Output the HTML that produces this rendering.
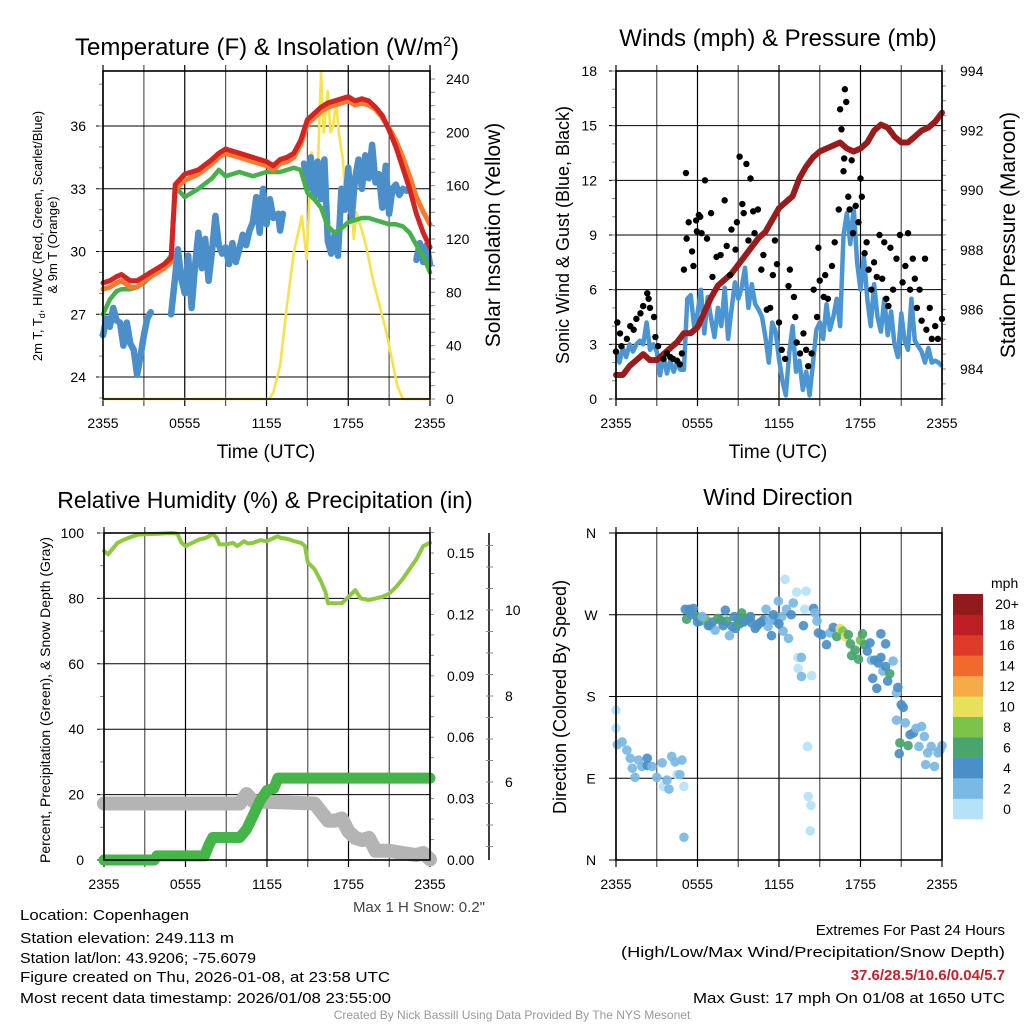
<!DOCTYPE html>
<html><head><meta charset="utf-8"><style>
html,body{margin:0;padding:0;background:#fff;}
svg{display:block;font-family:"Liberation Sans",sans-serif;}
</style></head><body>
<svg id="chart" width="1024" height="1024" viewBox="0 0 1024 1024" xmlns="http://www.w3.org/2000/svg">
<rect width="1024" height="1024" fill="#fff"/>
<text x="267" y="55" font-size="24" text-anchor="middle">Temperature (F) &amp; Insolation (W/m<tspan dy="-9" font-size="14">2</tspan><tspan dy="9">)</tspan></text>
<text x="778" y="46" font-size="24" text-anchor="middle">Winds (mph) &amp; Pressure (mb)</text>
<text x="265" y="508" font-size="23" text-anchor="middle">Relative Humidity (%) &amp; Precipitation (in)</text>
<text x="778" y="505" font-size="23" text-anchor="middle">Wind Direction</text>

<text transform="translate(42,236) rotate(-90)" font-size="13" text-anchor="middle">2m T, T<tspan font-size="9" dy="3">d</tspan><tspan dy="-3">, HI/WC (Red, Green, Scarlet/Blue)</tspan></text>
<text transform="translate(57,245) rotate(-90)" font-size="13" text-anchor="middle">&amp; 9m T (Orange)</text>
<text transform="translate(500,235) rotate(-90)" font-size="21" text-anchor="middle">Solar Insolation (Yellow)</text>
<text transform="translate(569,235) rotate(-90)" font-size="18" text-anchor="middle">Sonic Wind &amp; Gust (Blue, Black)</text>
<text transform="translate(1015,235) rotate(-90)" font-size="21" text-anchor="middle">Station Pressure (Maroon)</text>
<text transform="translate(50,700) rotate(-90)" font-size="14" text-anchor="middle">Percent, Precipitation (Green), &amp; Snow Depth (Gray)</text>
<text transform="translate(566,697) rotate(-90)" font-size="18" text-anchor="middle">Direction (Colored By Speed)</text>
<text x="266" y="458" font-size="19" text-anchor="middle">Time (UTC)</text>
<text x="778" y="458" font-size="19" text-anchor="middle">Time (UTC)</text>
<text x="485" y="912" font-size="15" text-anchor="end" fill="#444">Max 1 H Snow: 0.2"</text>

<g font-size="15">
<text x="20" y="920" textLength="169" lengthAdjust="spacingAndGlyphs">Location: Copenhagen</text>
<text x="20" y="943" textLength="214" lengthAdjust="spacingAndGlyphs">Station elevation: 249.113 m</text>
<text x="20" y="963" textLength="236" lengthAdjust="spacingAndGlyphs">Station lat/lon: 43.9206; -75.6079</text>
<text x="20" y="982" textLength="370" lengthAdjust="spacingAndGlyphs">Figure created on Thu, 2026-01-08, at 23:58 UTC</text>
<text x="20" y="1003" textLength="371" lengthAdjust="spacingAndGlyphs">Most recent data timestamp: 2026/01/08 23:55:00</text>
</g>
<g font-size="15" text-anchor="end">
<text x="1005" y="935">Extremes For Past 24 Hours</text>
<text x="1005" y="957" textLength="384" lengthAdjust="spacingAndGlyphs">(High/Low/Max Wind/Precipitation/Snow Depth)</text>
<text x="1005" y="980" fill="#c8202a" font-weight="bold">37.6/28.5/10.6/0.04/5.7</text>
<text x="1005" y="1003" textLength="312" lengthAdjust="spacingAndGlyphs">Max Gust: 17 mph On 01/08 at 1650 UTC</text>
</g>
<text x="512" y="1019" font-size="12" fill="#999" text-anchor="middle">Created By Nick Bassill Using Data Provided By The NYS Mesonet</text>
</svg>
<script>
// ---------- DATA ----------
const timeTicks = ["2355","0555","1155","1755","2355"];
// Temperature panel
const tempTime = [0,0.5,1,1.35,2,2.5,3,3.5,4,4.5,5,5.15,5.3,6,7,8,8.5,9,9.5,10,10.5,11,11.5,12,12.5,13,13.5,14,14.5,15,15.5,16,16.5,17,17.5,18,18.5,19,19.5,20,20.5,21,21.5,22,22.5,23,23.5,24];
const tempRed  = [28.5,28.6,28.8,28.9,28.6,28.6,28.8,29.0,29.2,29.4,29.7,31.5,33.2,33.7,33.9,34.4,34.7,34.9,34.8,34.7,34.6,34.5,34.4,34.3,34.1,34.4,34.5,34.7,35.3,36.3,36.6,36.9,37.1,37.2,37.3,37.4,37.2,37.3,37.2,36.9,36.5,35.8,35.0,34.0,33.0,31.8,30.9,30.2];
const tempOrange=[28.2,28.3,28.5,28.6,28.3,28.3,28.6,28.8,29.0,29.2,29.5,31.3,33.0,33.4,33.7,34.2,34.5,34.7,34.6,34.5,34.4,34.3,34.2,34.1,33.9,34.2,34.3,34.5,35.1,36.1,36.4,36.7,36.9,37.0,37.1,37.2,37.0,37.1,37.0,36.8,36.4,35.9,35.3,34.5,33.6,32.6,31.9,31.3];
const tempGreen= [27.0,27.7,28.1,28.2,28.2,28.3,28.5,28.8,29.1,29.4,29.8,31.5,33.1,32.6,33.0,33.5,33.9,33.6,33.7,33.8,33.7,33.6,33.7,33.8,33.8,33.8,33.9,34.0,33.9,32.8,32.5,32.1,31.2,30.9,31.1,31.4,31.5,31.6,31.6,31.5,31.4,31.3,31.3,31.2,30.9,30.3,29.8,29.0];
const wcTime = [0,0.25,0.5,0.75,1,1.25,1.5,1.75,2,2.25,2.5,2.75,3,3.25,3.5,3.6,5.0,5.25,5.5,5.75,6,6.25,6.5,6.75,7,7.25,7.5,7.75,8,8.25,8.5,8.75,9,9.25,9.5,9.75,10,10.25,10.5,10.75,11,11.25,11.5,11.75,12,12.25,12.5,12.6,12.85,13.0,13.2,14.5,14.75,15,15.25,15.5,15.75,16,16.25,16.5,16.75,17,17.25,17.5,17.75,18,18.25,18.5,18.75,19,19.25,19.5,19.75,20,20.25,20.5,20.75,21,21.25,21.5,21.75,22,22.3,22.9,23,23.25,23.5,23.75,24];
const wcBlue = [26.0,26.8,26.4,27.3,26.7,26.6,25.5,26.6,25.6,25.3,24.1,25.0,26.0,26.8,27.1,null,27.0,28.5,30.1,28.7,28.0,29.8,27.3,29.3,30.9,29.2,30.6,28.6,30.0,31.7,30.3,29.9,30.2,29.4,30.4,29.5,30.1,30.8,30.3,31.0,31.4,32.6,30.9,33.0,31.3,32.5,31.6,null,31.8,31.0,31.8,null,34.2,33.0,34.5,32.6,34.3,32.5,34.4,30.5,29.9,30.8,29.8,33.0,32.0,34.0,31.6,33.5,34.4,33.0,34.6,33.5,35.1,33.3,33.7,32.1,34.1,31.8,33.0,33.2,32.7,33.0,32.9,null,29.6,30.4,29.5,30.3,29.4];
const solarTime = [0,12.2,12.5,13.0,13.5,14.0,14.6,14.95,15.3,15.7,16.0,16.2,16.5,16.7,16.9,17.1,17.3,17.6,17.8,18.0,18.2,18.4,18.6,18.9,19.3,19.8,20.3,20.8,21.2,21.6,22.0,24];
const solarVal  = [0,0,5,25,70,110,137,105,185,150,245,200,231,200,205,225,200,180,150,140,160,120,140,130,115,90,70,50,30,10,0,0];
// Wind panel
const pressTime = [0,0.5,1,1.5,2,2.5,3,3.5,4,4.5,5,5.5,6,6.5,7,7.5,8,8.5,9,9.5,10,10.5,11,11.5,12,12.5,13,13.5,14,14.5,15,15.5,16,16.5,17,17.5,18,18.5,19,19.5,20,20.5,21,21.5,22,22.5,23,23.5,24];
const pressVal  = [983.8,983.8,984.1,984.3,984.5,984.3,984.3,984.5,984.7,984.9,985.2,985.2,985.4,985.9,986.4,986.8,987.0,987.2,987.5,987.8,988.1,988.4,988.6,989.0,989.4,989.6,989.8,990.4,990.8,991.1,991.3,991.4,991.5,991.6,991.4,991.3,991.4,991.6,992.0,992.2,992.1,991.8,991.6,991.6,991.8,992.0,992.1,992.3,992.6];
const windTime = [0,0.25,0.5,0.75,1,1.25,1.5,1.75,2,2.25,2.5,2.75,3,3.25,3.5,3.75,4,4.25,4.5,4.75,5,5.25,5.5,5.75,6,6.25,6.5,6.75,7,7.25,7.5,7.75,8,8.25,8.5,8.75,9,9.25,9.5,9.75,10,10.25,10.5,10.75,11,11.25,11.5,11.75,12,12.25,12.5,12.75,13,13.25,13.5,13.75,14,14.25,14.5,14.75,15,15.25,15.5,15.75,16,16.25,16.5,16.75,17,17.25,17.5,17.75,18,18.25,18.5,18.75,19,19.25,19.5,19.75,20,20.25,20.5,20.75,21,21.25,21.5,21.75,22,22.25,22.5,22.75,23,23.25,23.5,23.75,24];
const windVal = [2.7,2.0,2.8,2.3,3.0,2.6,3.0,3.2,3.0,4.2,2.7,3.0,2.6,1.3,2.4,1.4,2.1,1.5,2.0,1.6,1.6,5.5,5.7,4.0,4.7,6.0,3.6,5.6,4.4,3.4,5.0,4.0,6.1,3.3,4.9,6.4,5.5,6.1,7.2,5.0,6.3,5.2,4.9,4.5,3.4,2.0,4.2,3.7,2.2,1.0,0.2,2.5,4.0,1.5,2.1,0.5,1.5,0.2,2.0,3.8,4.2,3.3,5.2,3.8,4.5,5.5,4.0,9.0,10.2,8.5,10.5,7.5,6.0,7.8,5.5,4.0,6.3,4.5,3.7,5.5,3.5,4.8,3.0,2.3,4.7,3.2,2.7,5.5,3.2,2.9,2.6,2.0,2.8,2.0,2.1,2.0,1.8];
const gustTime = [0,0.1,0.3,0.4,0.8,1.05,1.3,1.5,1.8,2.0,2.3,2.4,2.5,2.8,2.9,3.1,3.5,3.75,4.0,4.2,4.5,4.7,4.85,5.0,5.15,5.2,5.35,5.6,5.7,5.9,5.95,6.1,6.2,6.3,6.55,6.7,7.0,7.1,7.4,7.7,8.0,8.15,8.4,8.5,8.8,8.9,9.1,9.3,9.4,9.6,9.75,9.9,10.1,10.2,10.45,10.7,10.85,11.1,11.35,11.55,11.7,11.85,12.0,12.2,12.45,12.7,12.8,13.1,13.2,13.3,13.55,13.8,14.0,14.15,14.4,14.55,14.8,14.9,15.0,15.3,15.4,15.6,15.9,16.1,16.4,16.5,16.6,16.75,16.8,16.85,16.95,17.1,17.2,17.35,17.45,17.65,17.85,18.0,18.1,18.3,18.45,18.6,18.8,19.0,19.2,19.4,19.6,19.75,19.9,20.05,20.2,20.4,20.65,20.9,21.1,21.3,21.5,21.65,21.85,22.0,22.15,22.35,22.5,22.75,22.85,23.1,23.25,23.5,23.7,24.0];
const gustVal  = [2.6,4.2,3.6,2.9,3.3,4.0,3.8,4.4,4.7,5.1,5.8,5.5,5.0,4.5,3.4,2.9,2.2,2.5,2.3,2.2,2.1,1.9,2.5,7.1,12.4,8.8,9.7,8.1,7.3,9.8,9.2,10.1,10.0,9.1,12.0,8.8,10.2,6.7,7.8,7.9,10.9,8.4,6.8,9.3,8.2,9.7,13.3,10.7,10.2,12.9,8.7,12.1,10.3,9.1,10.4,7.1,7.9,4.9,5.0,6.8,8.7,7.4,4.2,2.7,2.2,6.2,7.1,5.6,4.5,3.1,2.5,3.6,2.7,1.8,2.5,6.0,4.5,8.3,6.5,5.6,6.8,5.5,7.3,8.6,10.4,15.9,14.8,12.5,13.2,17.0,16.3,11.1,10.4,13.1,9.1,10.6,9.7,12.1,11.1,8.0,8.6,7.1,6.0,7.5,6.7,9.0,6.6,8.6,5.5,5.1,8.3,6.0,7.7,9.0,6.4,7.3,9.1,6.0,7.7,6.6,5.0,6.0,4.3,7.7,3.8,5.0,3.3,4.0,3.3,4.4];
// Humidity panel
const rhTime = [0,0.3,0.7,1,1.5,2,2.5,3,4,5,5.4,5.7,6,6.5,7,7.5,8,8.3,8.5,9,9.5,9.8,10,10.3,10.6,11,11.5,12,12.5,12.8,13,13.5,14,14.5,14.8,15,15.5,16,16.3,16.5,17,17.5,18,18.5,18.9,19.5,20,20.5,21,21.5,22,22.5,23,23.5,24];
const rhVal  = [94.5,93.5,95.5,97,98,98.8,99.5,99.6,99.8,100,99.8,97,96,97,98,98.5,99.7,98.5,96.5,96.5,97,96,96.5,97.5,96.8,97,97.8,97.5,98.5,99,98.5,98.2,97.5,97,96,91,89,85,82,78.5,78.5,78.5,80.5,82.5,80,79.5,80,80.5,81.5,83.5,86,89,92,96,97];
const precipTime = [0,3.7,3.9,7.4,7.7,8.0,10.0,10.5,11.0,11.5,12.0,12.5,12.8,13.2,24];
const precipVal  = [0,0,0.002,0.002,0.007,0.011,0.011,0.015,0.022,0.029,0.034,0.035,0.040,0.040,0.040];
const snowTime = [0,10,10.5,11,15.5,16,16.5,17,17.5,18,18.5,19,19.5,20,21,22,23,23.5,24];
const snowVal  = [5.5,5.5,5.72,5.55,5.5,5.3,5.1,5.1,5.15,4.85,4.7,4.65,4.7,4.4,4.4,4.35,4.3,4.35,4.2];
// Wind direction panel
const dirTime = [0,0,0.1,0.45,0.8,1.05,1.2,1.4,1.65,1.9,2.3,2.3,2.65,3.0,3.4,3.5,3.75,3.9,4.1,4.35,4.5,4.7,4.85,5.0,5.0,5.1,5.2,5.4,5.7,5.95,6.2,6.45,6.65,6.95,7.3,7.7,8.05,8.15,8.35,8.55,8.8,9.0,9.25,9.5,9.75,10.0,10.25,10.6,10.85,11.05,11.2,11.45,11.7,11.95,12.2,12.3,12.45,12.55,12.7,12.9,13.05,13.3,13.4,13.4,13.65,13.65,13.9,14.0,13.8,14.4,14.55,14.65,14.8,14.9,15.15,15.5,15.75,16.0,16.25,16.5,16.7,16.9,17.1,17.25,17.35,17.6,17.85,18.0,18.15,18.3,18.5,18.7,18.8,19.05,19.3,19.5,19.5,19.65,19.85,19.85,20.0,20.15,20.4,19.2,18.9,20.65,20.75,21.0,21.15,20.65,20.9,20.85,21.3,21.5,21.65,21.9,22.1,22.3,22.5,22.7,22.8,22.95,23.2,23.45,23.7,24,23.85,14.15,14.35,14.3,14.1,5.55,6.0,6.35,6.8,7.1,7.5,7.9,8.7,9.1,9.4,9.9,10.4,10.7,11.3,11.6,12.0];
const dirDeg  = [165,145,127,130,121,112,101,91,110,103,112,104,103,91,107,81,88,78,114,108,94,94,110,81,25,276,265,276,277,268,263,265,264,258,253,264,275,263,247,257,255,264,272,264,266,261,255,261,264,276,257,247,264,285,268,252,309,276,244,270,283,295,223,211,223,202,276,296,258,203,277,272,263,250,248,237,250,256,246,255,252,246,248,238,225,231,221,242,249,237,230,239,220,220,217,249,223,208,238,213,197,205,219,189,200,184,190,171,168,154,129,117,151,126,138,140,145,125,147,136,105,118,125,103,118,126,121,70,60,32,125,270,262,268,258,262,266,258,268,260,262,268,258,262,264,270,260];
const dirSpd  = [1,1.5,3,2,2.5,2.5,2.5,2.5,2.5,2.5,4,4,2.5,2.5,2.5,1.5,3,2,2.5,2.5,1.5,2.5,2.5,1.5,2.5,4,6,5,4,6,4,7,8,4,3,4,4,7,2.5,4,4,6,7,6,6,5,4,4,4,3,3,4,4,3,2,2.5,1,3,2.5,4,2.5,1,1,1.5,2.5,2.5,1,1.5,4,1,4,2.5,3,4,4,4,3,4,6,10,8,10,6,7,6,6,7,8,7,6,5,4,3,4,4,4,4,2.5,4,4,4,6,2.5,4,4,2.5,4,4,4,2.5,6,4,2.5,6,4,4,2.5,2.5,2.5,2.5,2.5,2.5,2.5,2.5,2.5,2.5,2.5,1,1,1,1,4,4,3,4,4,6,4,4,6,4,4,4,4,3,4,4];
const dirLabels = ["N","E","S","W","N"];
const speedLabels = ["0","2","4","6","8","10","12","14","16","18","20+"];
const speedColors = ["#b5e2f8","#7ab9e4","#4a8fc7","#47a56d","#7dc24b","#e6e05a","#f7aa48","#f06a2d","#dd3a29","#bd1d25","#901a1c"];

// ---------- HELPERS ----------
const NS = "http://www.w3.org/2000/svg";
const svg = document.getElementById("chart");
function mk(tag, attrs, parent) {
  const e = document.createElementNS(NS, tag);
  for (const k in attrs) e.setAttribute(k, attrs[k]);
  (parent || svg).appendChild(e);
  return e;
}
function linScale(d0, d1, r0, r1) { return v => r0 + (v - d0) / (d1 - d0) * (r1 - r0); }
function pathD(xs, ys, sx, sy) {
  let d = "", pen = false;
  for (let i = 0; i < xs.length; i++) {
    if (ys[i] === null) { pen = false; continue; }
    d += (pen ? "L" : "M") + sx(xs[i]).toFixed(1) + "," + sy(ys[i]).toFixed(1);
    pen = true;
  }
  return d;
}
function stepD(xs, ys, sx, sy) {
  let d = "";
  for (let i = 0; i < xs.length; i++) {
    d += (i ? "L" : "M") + sx(xs[i]).toFixed(1) + "," + sy(ys[i]).toFixed(1);
  }
  return d;
}
function grid(p, hVals, sy, name) {
  const g = mk("g", {});
  
  
  for (let h = 0; h <= 24; h += 3) {
    const x = p.sx(h);
    const l = mk("line", {x1: x, x2: x, y1: p.y0 - 6, y2: p.y1 + 7, stroke: (h % 6 === 0) ? "#000" : "#555", "stroke-width": 1.2}, g);
    
    
  }
  hVals.forEach(v => {
    const y = sy(v);
    const l = mk("line", {x1: p.x0 - 7, x2: p.x1, y1: y, y2: y, stroke: "#000", "stroke-width": 1}, g);
    
    
  });
}
function frame(p, name) {
  const r = mk("rect", {x: p.x0, y: p.y0, width: p.x1 - p.x0, height: p.y1 - p.y0, fill: "none", stroke: "#000", "stroke-width": 1.6});
  
  
}
function xTicks(p, name) {
  timeTicks.forEach((t, i) => {
    const tx = mk("text", {x: p.sx(i * 6), y: p.y1 + 29, "font-size": 14, "text-anchor": "middle"});
    tx.textContent = t;
    
    
  });
}
function yLabels(vals, labels, sy, x, anchor, name) {
  vals.forEach((v, i) => {
    const tx = mk("text", {x: x, y: sy(v) + 5, "font-size": 14, "text-anchor": anchor});
    tx.textContent = labels[i];
    
    
  });
}
function minorTicks(x, dir, vals, sy, len, name) {
  vals.forEach(v => {
    const y = sy(v);
    const l = mk("line", {x1: x, x2: x + dir * len, y1: y, y2: y, stroke: "#888", "stroke-width": 1});
    
    
  });
}
function range(a, b, s) { const r = []; for (let v = a; v <= b + 1e-9; v += s) r.push(+v.toFixed(4)); return r; }

// ---------- PANEL 1: Temperature ----------
(function () {
  const p = {x0: 103, x1: 430, y0: 71, y1: 399};
  p.sx = linScale(0, 24, p.x0, p.x1);
  const sy = linScale(24, 36, 377, 126);
  const sr = linScale(0, 240, 399, 79);
  grid(p, [24, 27, 30, 33, 36], sy, "temperature");
  minorTicks(p.x0, -1, range(23, 38, 1), sy, 4, "temperature-left");
  minorTicks(p.x1, 1, range(0, 240, 10), sr, 5, "solar-right");
  const tempSeries = [["solar-insolation-line", solarTime, solarVal, "#f8e24c", 2.6, sr],
    ["windchill-line", wcTime, wcBlue, "#4a8fc9", 6.5, sy],
    ["dewpoint-line", tempTime, tempGreen, "#46b04a", 4.5, sy],
    ["temp-9m-line", tempTime, tempOrange, "#f47a2c", 5, sy],
    ["temp-2m-line", tempTime, tempRed, "#d42323", 5, sy]];
  tempSeries.forEach(s => {
    const path = mk("path", {d: pathD(s[1], s[2], p.sx, s[5]), fill: "none", stroke: s[3], "stroke-width": s[4], "stroke-linejoin": "round", "stroke-linecap": "round"});
    
    
  });
  frame(p, "temperature");
  xTicks(p, "temperature");
  yLabels([24, 27, 30, 33, 36], ["24", "27", "30", "33", "36"], sy, 86, "end", "temperature-y");
  yLabels([0, 40, 80, 120, 160, 200, 240], ["0", "40", "80", "120", "160", "200", "240"], sr, 446, "start", "solar-y");
})();

// ---------- PANEL 2: Winds ----------
(function () {
  const p = {x0: 616, x1: 942, y0: 71, y1: 399};
  p.sx = linScale(0, 24, p.x0, p.x1);
  const sy = linScale(0, 18, 399, 71);
  const sp = linScale(984, 994, 369, 71);
  grid(p, [0, 3, 6, 9, 12, 15, 18], sy, "winds");
  minorTicks(p.x0, -1, range(0, 18, 1), sy, 4, "wind-left");
  minorTicks(p.x1, 1, range(983, 994, 0.5), sp, 4, "pressure-right");
  const wl = mk("path", {d: pathD(windTime, windVal, p.sx, sy), fill: "none", stroke: "#4a95d2", "stroke-width": 4.5, "stroke-linejoin": "round"});
  
  
  const pl = mk("path", {d: pathD(pressTime, pressVal, p.sx, sp), fill: "none", stroke: "#9a1b1b", "stroke-width": 6, "stroke-linejoin": "round", "stroke-linecap": "round"});
  
  
  const gg = mk("g", {});
  
  
  gustTime.forEach((t, i) => {
    const c = mk("circle", {cx: p.sx(t), cy: sy(gustVal[i]), r: 3.2, fill: "#000"}, gg);
    
    
  });
  frame(p, "winds");
  xTicks(p, "winds");
  yLabels([0, 3, 6, 9, 12, 15, 18], ["0", "3", "6", "9", "12", "15", "18"], sy, 597, "end", "wind-y");
  yLabels([984, 986, 988, 990, 992, 994], ["984", "986", "988", "990", "992", "994"], sp, 960, "start", "pressure-y");
})();

// ---------- PANEL 3: Humidity ----------
(function () {
  const p = {x0: 104, x1: 430, y0: 533, y1: 860};
  p.sx = linScale(0, 24, p.x0, p.x1);
  const sy = linScale(0, 100, 860, 533);
  const spr = linScale(0, 0.15, 860, 553);
  const ssn = linScale(6, 10, 782, 610);
  grid(p, [0, 20, 40, 60, 80, 100], sy, "humidity");
  minorTicks(p.x0, -1, range(0, 100, 10), sy, 4, "humidity-left");
  minorTicks(p.x1, 1, range(0, 0.16, 0.01), spr, 4, "precip-right");
  const sn = mk("path", {d: pathD(snowTime, snowVal, p.sx, ssn), fill: "none", stroke: "#b4b4b4", "stroke-width": 14, "stroke-linejoin": "round", "stroke-linecap": "round"});
  
  
  const pr = mk("path", {d: stepD(precipTime, precipVal, p.sx, spr), fill: "none", stroke: "#45b449", "stroke-width": 11, "stroke-linejoin": "round", "stroke-linecap": "round"});
  
  
  const rh = mk("path", {d: pathD(rhTime, rhVal, p.sx, sy), fill: "none", stroke: "#8dc841", "stroke-width": 4, "stroke-linejoin": "round", "stroke-linecap": "round"});
  
  
  frame(p, "humidity");
  xTicks(p, "humidity");
  yLabels([0, 20, 40, 60, 80, 100], ["0", "20", "40", "60", "80", "100"], sy, 84, "end", "humidity-y");
  yLabels([0, 0.03, 0.06, 0.09, 0.12, 0.15], ["0.00", "0.03", "0.06", "0.09", "0.12", "0.15"], spr, 447, "start", "precip-y");
  const ax = mk("line", {x1: 489, x2: 489, y1: 533, y2: 860, stroke: "#000", "stroke-width": 1.5});
  
  
  minorTicks(489, 1, range(4.5, 11.5, 0.5), ssn, 4, "snow-right");
  minorTicks(489, -1, range(4.5, 11.5, 0.5), ssn, 3, "snow-left");
  yLabels([6, 8, 10], ["6", "8", "10"], ssn, 505, "start", "snow-y");
})();

// ---------- PANEL 4: Wind Direction ----------
(function () {
  const p = {x0: 616, x1: 942, y0: 533, y1: 860};
  p.sx = linScale(0, 24, p.x0, p.x1);
  const sy = linScale(0, 360, 860, 533);
  grid(p, [0, 90, 180, 270, 360], sy, "direction");
  function colorFor(s) { const i = Math.min(10, Math.floor(s / 2)); return speedColors[i]; }
  const dg = mk("g", {});
  
  
  dirTime.forEach((t, i) => {
    const c = mk("circle", {cx: p.sx(t), cy: sy(dirDeg[i]), r: 4.8, fill: colorFor(dirSpd[i]), "fill-opacity": 0.92}, dg);
    
    
  });
  frame(p, "direction");
  xTicks(p, "direction");
  yLabels([0, 90, 180, 270, 360], dirLabels, sy, 591, "middle", "direction-y");
  const cb = mk("g", {});
  
  
  const top = 594, bot = 819, h = (bot - top) / speedColors.length;
  speedColors.forEach((col, i) => {
    const y = bot - (i + 1) * h;
    const r = mk("rect", {x: 953, y: y, width: 30, height: h + 0.3, fill: col}, cb);
    
    
    const tx = mk("text", {x: 1007, y: y + h / 2 + 5, "font-size": 14, "text-anchor": "middle"}, cb);
    tx.textContent = speedLabels[i];
    
    
  });
  const mt = mk("text", {x: 991, y: 588, "font-size": 14}, cb);
  mt.textContent = "mph";
  
  
})();
</script>
</body></html>
